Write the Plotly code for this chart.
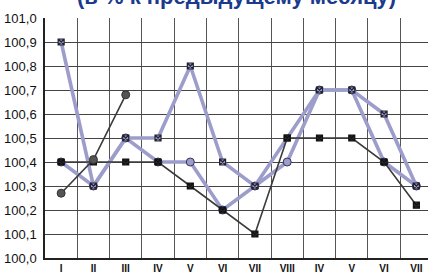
import plotly.graph_objects as go

months = list(range(1, 13))
tick_labels = ["I", "II", "III", "IV", "V", "VI", "VII", "VIII", "IV", "V", "VI", "VII"]
y_ticks = [100.0, 100.1, 100.2, 100.3, 100.4, 100.5, 100.6, 100.7, 100.8, 100.9, 101.0]

series_a = [100.4, 100.3, 100.5, 100.4, 100.4, 100.2, 100.3, 100.4, 100.7, 100.7, 100.4, 100.3]
series_b = [100.9, 100.3, 100.5, 100.5, 100.8, 100.4, 100.3, 100.5, 100.7, 100.7, 100.6, 100.3]
series_c = [100.4, 100.4, 100.4, 100.4, 100.3, 100.2, 100.1, 100.5, 100.5, 100.5, 100.4, 100.22]
series_d = [100.27, 100.41, 100.68]

PURPLE = "#9d9dcb"
DARK = "#3a3a3a"

fig = go.Figure()
fig.add_trace(go.Scatter(x=months, y=series_a, mode="lines+markers",
                         line=dict(color=PURPLE, width=3.6),
                         marker=dict(symbol="circle", size=8, color=PURPLE,
                                     line=dict(color="#333355", width=1))))
fig.add_trace(go.Scatter(x=months, y=series_b, mode="lines+markers",
                         line=dict(color=PURPLE, width=3.6),
                         marker=dict(symbol="square-x", size=6, color=PURPLE,
                                     line=dict(color="#222233", width=1.2))))
fig.add_trace(go.Scatter(x=months, y=series_c, mode="lines+markers",
                         line=dict(color=DARK, width=1.6),
                         marker=dict(symbol="square-x", size=6, color="#2a2a2a",
                                     line=dict(color="#111111", width=1.2))))
fig.add_trace(go.Scatter(x=months[:len(series_d)], y=series_d, mode="lines+markers",
                         line=dict(color=DARK, width=1.6),
                         marker=dict(symbol="circle", size=8, color="#555555",
                                     line=dict(color="#333333", width=1))))

fig.update_layout(
    width=428, height=273,
    margin=dict(l=45, r=0, t=18, b=15),
    paper_bgcolor="white", plot_bgcolor="white",
    showlegend=False,
    font=dict(family="Liberation Sans Narrow, Arial Narrow, sans-serif", color="black"),
    annotations=[dict(text="<b>(в % к предыдущему месяцу)</b>", xref="paper", yref="paper",
                      x=0.5, y=1, xanchor="center", yanchor="bottom", yshift=7,
                      showarrow=False,
                      font=dict(family="Liberation Sans, Arial, sans-serif", size=22, color="#1b3a8c"))],
)
fig.update_xaxes(
    range=[0.5, 12.36], tickmode="array", tickvals=months,
    ticktext=[f"<b>{t}</b>" for t in tick_labels],
    showgrid=False, zeroline=False, automargin=False,
    showline=True, linecolor="#222", linewidth=1.5,
    ticks="", ticklabelstandoff=0,
    tickfont=dict(size=10, family="Liberation Sans Narrow, sans-serif", color="#111"),
    minor=dict(tickmode="linear", tick0=0.5, dtick=1, showgrid=True, gridcolor="#555", gridwidth=1.4),
)
fig.update_yaxes(
    range=[100.0, 101.0], tickmode="array", tickvals=y_ticks,
    ticktext=[f"{v:.1f}".replace(".", ",") for v in y_ticks],
    showgrid=True, gridcolor="#444", gridwidth=1.4, zeroline=False, automargin=False,
    showline=True, linecolor="#222", linewidth=1.5,
    ticks="", ticklabelstandoff=4,
    tickfont=dict(size=13, family="Liberation Sans Narrow, sans-serif", color="#111"),
)

fig.write_html("out.html", config={"displayModeBar": False},
               post_script="document.body.style.margin='0';document.body.style.overflow='hidden';")
